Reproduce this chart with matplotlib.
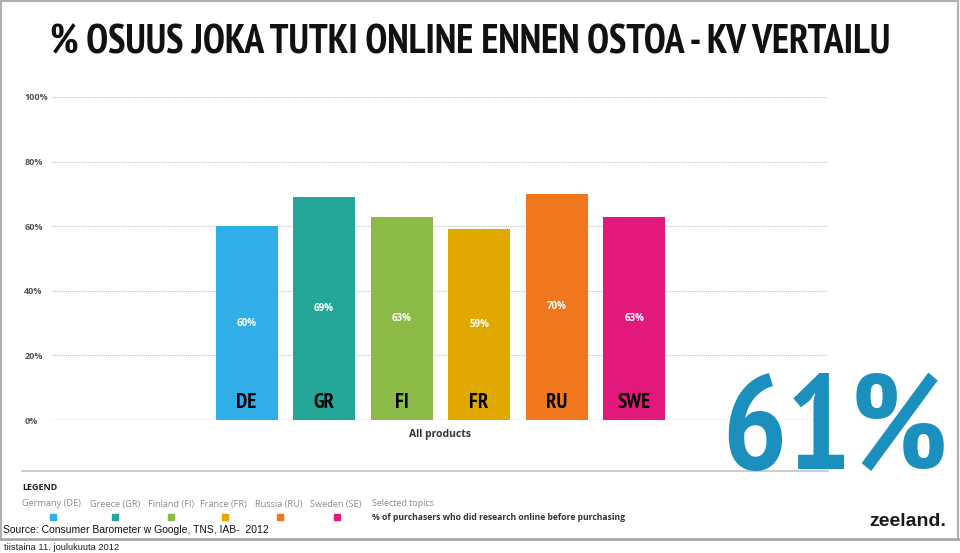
import numpy as np
import matplotlib.pyplot as plt
from matplotlib import font_manager as fm
from matplotlib.lines import Line2D
from matplotlib.patches import Rectangle

# data
countries = ["DE", "GR", "FI", "FR", "RU", "SWE"]
values = [60, 69, 63, 59, 70, 63]
colors = ["#31ade7", "#24a698", "#8bbb46", "#e1a900", "#ef781f", "#e2197b"]
yticks = [0, 20, 40, 60, 80, 100]
legend_names = ["Germany (DE)", "Greece (GR)", "Finland (FI)", "France (FR)",
                "Russia (RU)", "Sweden (SE)"]
average = "61%"

W, H = 960, 553
SANS = ["Open Sans", "DejaVu Sans"]


def find_condensed_bold():
    # look for some bold narrow face among installed fonts
    best = None
    for f in fm.fontManager.ttflist:
        name = f.name + " " + str(f.fname)
        stretch = str(f.stretch).lower()
        narrow = ("Narrow" in name or "Condensed" in name or "condensed" in stretch)
        bold = str(f.weight) in ("bold", "700", "heavy", "800") or "Bold" in f.fname
        if narrow and bold and "Italic" not in f.fname and "Oblique" not in f.fname:
            rank = 0 if "Narrow" in name else (1 if "Roboto" in name else 2)
            if best is None or rank < best[0]:
                best = (rank, f.fname)
    if best:
        return fm.FontProperties(fname=best[1])
    return fm.FontProperties(family="Liberation Sans", weight="bold")


COND = find_condensed_bold()


def px(x, y):
    return x / W, 1 - y / H


def fit_width(txt, width_px, renderer):
    bb = txt.get_window_extent(renderer)
    txt.set_fontsize(txt.get_fontsize() * width_px / bb.width)


fig = plt.figure(figsize=(W / 100, H / 100), dpi=100)
fig.patch.set_facecolor("white")
renderer = fig.canvas.get_renderer()

# slide borders
for (x0, y0, x1, y1, c, lw) in [(1, 1, 958, 1, "#b0b0b0", 1.5),
                                 (1, 1, 1, 539, "#b0b0b0", 1.5),
                                 (958, 1, 958, 539, "#b0b0b0", 1.5),
                                 (0, 539, 960, 539, "#a8a8a8", 2),
                                 (22, 471, 828, 471, "#c4c4c4", 1.2)]:
    a, b = px(x0, y0)
    c2, d = px(x1, y1)
    fig.add_artist(Line2D([a, c2], [b, d], color=c, lw=lw))

title = fig.text(*px(50, 53), "% OSUUS JOKA TUTKI ONLINE ENNEN OSTOA - KV VERTAILU",
                 fontproperties=COND, fontsize=28, ha="left", va="baseline",
                 color="#111111")
fit_width(title, 840, renderer)

l, t = px(52, 97)
r, b = px(828, 420)
ax = fig.add_axes([l, b, r - l, t - b])
x = np.arange(len(countries))
ax.bar(x, values, width=0.8, color=colors, zorder=3)
ax.set_xlim(-2.51, 7.5)
ax.set_ylim(0, 100)

for i, v in enumerate(values):
    ax.text(i, v / 2, f"{v}%", color="white", fontsize=7, weight="bold",
            family=SANS, ha="center", va="center", zorder=4)
    ax.text(i, 3.7, countries[i], color="black", fontproperties=COND,
            fontsize=15, ha="center", va="baseline", zorder=4)

ax.set_yticks(yticks)
ax.set_yticklabels([f"{v}%" for v in yticks], family=SANS, fontsize=6.5,
                   weight="bold", color="#555555", ha="left")
ax.tick_params(axis="y", length=0, pad=20)
ax.set_xticks([])
ax.yaxis.grid(True, linestyle=(0, (1, 1)), color="#c4c4c4", lw=0.8, zorder=0)
ax.axhline(0, color="#d4d4d4", lw=1, zorder=2)
for s in ax.spines.values():
    s.set_visible(False)
ax.patch.set_alpha(0)

fig.text(*px(440, 435), "All products", family=SANS, fontsize=7.5,
         weight="bold", color="#333333", ha="center", va="center")

big = fig.text(*px(722, 469), average, fontproperties=COND, fontsize=100,
               color="#1b8fbd", ha="left", va="baseline")
fit_width(big, 226, renderer)

# legend
fig.text(*px(22, 487), "LEGEND", family=SANS, fontsize=6.5, weight="bold",
         color="#222222", ha="left", va="center")
name_x = [22, 90, 148, 200, 255, 310]
square_x = [53, 115, 171, 225, 280, 337]
for nm, nx, sx, c in zip(legend_names, name_x, square_x, colors):
    fig.text(*px(nx, 504), nm, family=SANS, fontsize=6.6, color="#8a8a8a",
             ha="left", va="center")
    a, bb = px(sx - 3, 520)
    fig.add_artist(Rectangle((a, bb), 6 / W, 6 / H, color=c,
                             transform=fig.transFigure))
fig.text(*px(372, 504), "Selected topics", family=SANS, fontsize=6.4,
         color="#8a8a8a", ha="left", va="center")
fig.text(*px(372, 517), "% of purchasers who did research online before purchasing",
         family=SANS, fontsize=6.2, weight="bold", color="#333333",
         ha="left", va="center")

fig.text(*px(3, 530), "Source: Consumer Barometer w Google, TNS, IAB-  2012",
         family=["Liberation Sans", "DejaVu Sans"], fontsize=7.5, color="#111111",
         ha="left", va="center")
fig.text(*px(4, 547), "tiistaina 11. joulukuuta 2012",
         family=["Liberation Sans", "DejaVu Sans"], fontsize=6.7,
         color="#222222", ha="left", va="center")
fig.text(*px(946, 521), "zeeland.", family=["Liberation Sans", "DejaVu Sans"],
         fontsize=14, weight="bold", color="#1a1a1a", ha="right", va="center")

fig.savefig("out.png", dpi=100, facecolor="white")
